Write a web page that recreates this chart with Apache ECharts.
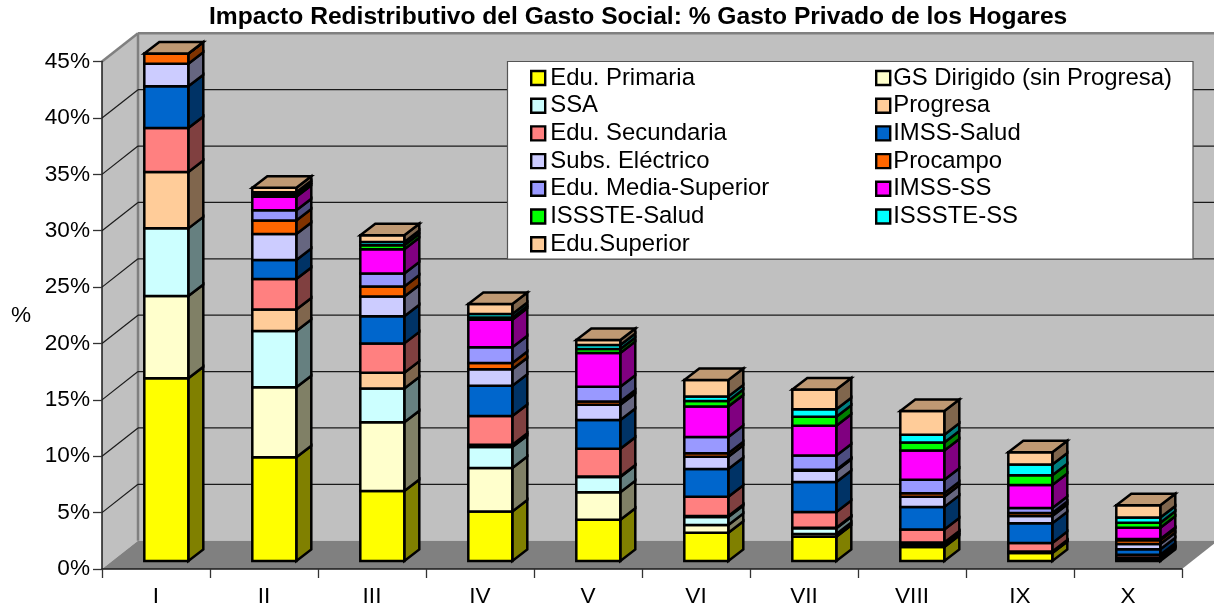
<!DOCTYPE html>
<html><head><meta charset="utf-8">
<style>html,body{margin:0;padding:0;background:#fff}#c{width:1214px;height:608px}</style>
<script src="https://cdn.jsdelivr.net/npm/echarts@6/dist/echarts.min.js"></script>
</head><body><div id="c"></div>
<script>
const categories = ['I','II','III','IV','V','VI','VII','VIII','IX','X'];
const yTicks = [0,5,10,15,20,25,30,35,40,45];
const eduPrimaria   = [16.2,9.2,6.2,4.4,3.65,2.5,2.15,1.25,0.7,0.1];
const gsDirigido    = [7.3,6.2,6.1,3.85,2.45,0.7,0.25,0.15,0.05,0.1];
const ssa           = [6.0,5.0,3.0,1.85,1.35,0.7,0.5,0.2,0.05,0.05];
const progresa      = [5.0,1.9,1.4,0.2,0.05,0.1,0.05,0.05,0.05,0.05];
const eduSecundaria = [3.9,2.7,2.6,2.55,2.45,1.7,1.4,1.15,0.75,0.25];
const imssSalud     = [3.7,1.7,2.4,2.7,2.55,2.45,2.65,2.0,1.75,0.5];
const subsElectrico = [2.0,2.3,1.75,1.45,1.35,1.1,1.0,0.9,0.65,0.45];
const procampo      = [0.9,1.2,0.9,0.55,0.3,0.3,0.1,0.3,0.25,0.35];
const eduMedia      = [0,0.9,1.15,1.4,1.3,1.45,1.25,1.2,0.45,0.1];
const imssSS        = [0,1.2,2.15,2.45,3.0,2.7,2.65,2.6,2.05,1.0];
const issteSalud    = [0,0.2,0.35,0.2,0.35,0.5,0.8,0.7,0.85,0.45];
const issteSS       = [0,0.2,0.3,0.3,0.35,0.4,0.65,0.7,0.95,0.45];
const eduSuperior   = [0,0.4,0.6,0.9,0.45,1.45,1.75,2.1,1.1,1.1];

const stackNames  = ['Edu. Primaria','GS Dirigido (sin Progresa)','SSA','Progresa','Edu. Secundaria','IMSS-Salud','Subs. Eléctrico','Procampo','Edu. Media-Superior','IMSS-SS','ISSSTE-Salud','ISSSTE-SS','Edu.Superior'];
const stackValues = [eduPrimaria,gsDirigido,ssa,progresa,eduSecundaria,imssSalud,subsElectrico,procampo,eduMedia,imssSS,issteSalud,issteSS,eduSuperior];
const stackColors = ['#FFFF00','#FFFFCC','#CCFFFF','#FFCC99','#FF8080','#0066CC','#CCCCFF','#FF6600','#9999FF','#FF00FF','#00FF00','#00FFFF','#FFCC99'];

const FONT = '"Liberation Sans", Arial, sans-serif';
const WALL_DX = 36, WALL_DY = -28.3;
const BAR_DX = 15, BAR_DY = -11.5, NEAR_DX = 10.3, NEAR_DY = -8, BAR_RATIO = 44/108;

function shade(hex, k) {
  const n = parseInt(hex.slice(1), 16);
  const c = [(n>>16)&255, (n>>8)&255, n&255].map(v => Math.round(v*k));
  return 'rgb(' + c.join(',') + ')';
}
function poly(points, fill, stroke, lw) {
  return {type:'polygon', shape:{points}, style:{fill, stroke, lineWidth:lw, lineJoin:'miter'}};
}
function line(x1,y1,x2,y2,color,lw) {
  return {type:'line', shape:{x1,y1,x2,y2}, style:{stroke:color, lineWidth:lw, fill:null}};
}

function renderWalls(params, api) {
  const cs = params.coordSys;
  const v = api.value(0);
  const y = api.coord([0, v])[1];
  const x0 = cs.x, x1 = cs.x + cs.width;
  const bx0 = x0 + WALL_DX, bx1 = x1 + WALL_DX, by = y + WALL_DY;
  const kids = [];
  if (params.dataIndex === 0) {
    const yTop = cs.y, yBot = cs.y + cs.height;
    kids.push(poly([[bx0,yTop+WALL_DY],[bx1,yTop+WALL_DY],[bx1,yBot+WALL_DY],[bx0,yBot+WALL_DY]],'#C0C0C0','none',0));
    kids.push(poly([[x0,yTop],[bx0,yTop+WALL_DY],[bx0,yBot+WALL_DY],[x0,yBot]],'#C0C0C0','none',0));
    kids.push(poly([[x0,yBot],[bx0,yBot+WALL_DY],[bx1,yBot+WALL_DY],[x1,yBot]],'#808080','none',0));
    kids.push(line(bx0,yTop+WALL_DY,bx0,yBot+WALL_DY,'#808080',2.5));
    kids.push(line(bx0,yTop+WALL_DY,bx1,yTop+WALL_DY,'#808080',2.5));
  } else if (v >= 45) {
    kids.push(line(x0,y,bx0,by,'#808080',2.5));
  } else {
    kids.push(line(bx0,by,bx1,by,'#1a1a1a',1.2));
    kids.push(line(x0,y,bx0,by,'#1a1a1a',1.2));
  }
  return {type:'group', children:kids};
}

function makeRender(color, isLast) {
  return function (params, api) {
    const i = api.value(0);
    const lo = api.coord([i, api.value(1)]);
    const hi = api.coord([i, api.value(2)]);
    const w = api.size([1,0])[0] * BAR_RATIO;
    const xl = lo[0] + NEAR_DX - w/2, xr = xl + w;
    const yb = lo[1] + NEAR_DY, yt = hi[1] + NEAR_DY;
    const kids = [
      poly([[xr,yb],[xr+BAR_DX,yb+BAR_DY],[xr+BAR_DX,yt+BAR_DY],[xr,yt]], shade(color,0.5), '#000', 2.5),
      poly([[xl,yb],[xr,yb],[xr,yt],[xl,yt]], color, '#000', 2.5)
    ];
    if (isLast) {
      kids.push(poly([[xl,yt],[xr,yt],[xr+BAR_DX,yt+BAR_DY],[xl+BAR_DX,yt+BAR_DY]], shade(color,0.75), '#000', 2.5));
    }
    return {type:'group', children:kids};
  };
}

const running = categories.map(() => 0);
const barSeries = stackNames.map((name, s) => {
  const data = stackValues[s].map((v, c) => {
    const base = running[c];
    running[c] = base + v;
    return [c, base, running[c]];
  });
  return {
    name, type:'custom', z:2, clip:false, silent:true,
    itemStyle:{color:stackColors[s]},
    renderItem: makeRender(stackColors[s], s === stackNames.length-1),
    encode:{x:0, y:[1,2]},
    data
  };
});

const legendStyle = {
  type:'plain', orient:'vertical', icon:'rect', itemWidth:14, itemHeight:14, itemGap:3.7,
  padding:0, z:5, selectedMode:false,
  itemStyle:{borderColor:'#000', borderWidth:2.4}
};
const legendText = (pad) => ({fontFamily:FONT, fontSize:23.9, color:'#000', padding:[0,0,0,pad]});

const chart = echarts.init(document.getElementById('c'), null, {renderer:'canvas'});
chart.setOption({
  animation:false,
  backgroundColor:'#fff',
  title:{text:'Impacto Redistributivo del Gasto Social: % Gasto Privado de los Hogares',
    left:209, top:5, padding:0,
    textStyle:{fontFamily:FONT, fontSize:24.6, fontWeight:'bold', color:'#000'}},
  grid:{left:102, right:32, top:61.6, bottom:39, containLabel:false, outerBoundsMode:'none'},
  xAxis:{type:'category', data:categories, z:6,
    axisTick:{show:true, alignWithLabel:false, length:9, lineStyle:{color:'#333', width:1.3}},
    axisLine:{show:true, lineStyle:{color:'#1a1a1a', width:1.5}},
    axisLabel:{fontFamily:FONT, fontSize:22.6, color:'#000', margin:16, interval:0},
    splitLine:{show:false}},
  yAxis:{type:'value', min:0, max:45, interval:5, z:6,
    name:'%', nameLocation:'middle', nameGap:71, nameRotate:0,
    nameTextStyle:{fontFamily:FONT, fontSize:22.6, color:'#000'},
    axisTick:{show:true, length:9, lineStyle:{color:'#333', width:1.3}},
    axisLine:{show:true, lineStyle:{color:'#1a1a1a', width:1.5}},
    axisLabel:{fontFamily:FONT, fontSize:22.6, color:'#000', margin:12, formatter:'{value}%'},
    splitLine:{show:false}},
  legend:[
    Object.assign({}, legendStyle, {left:530, top:66, textStyle:legendText(0), data:stackNames.filter((n,i)=>i%2===0)}),
    Object.assign({}, legendStyle, {left:875, top:66, textStyle:legendText(-2), data:stackNames.filter((n,i)=>i%2===1)})
  ],
  graphic:{elements:[{type:'rect', z:3, silent:true,
    shape:{x:507.5, y:61.5, width:685.5, height:197.5},
    style:{fill:'#fff', stroke:'#555', lineWidth:1.2}}]},
  series:[{
    name:'walls', type:'custom', z:1, clip:false, silent:true,
    renderItem:renderWalls, encode:{y:0},
    data:yTicks.map(v=>[v])
  }].concat(barSeries)
});
</script></body></html>
